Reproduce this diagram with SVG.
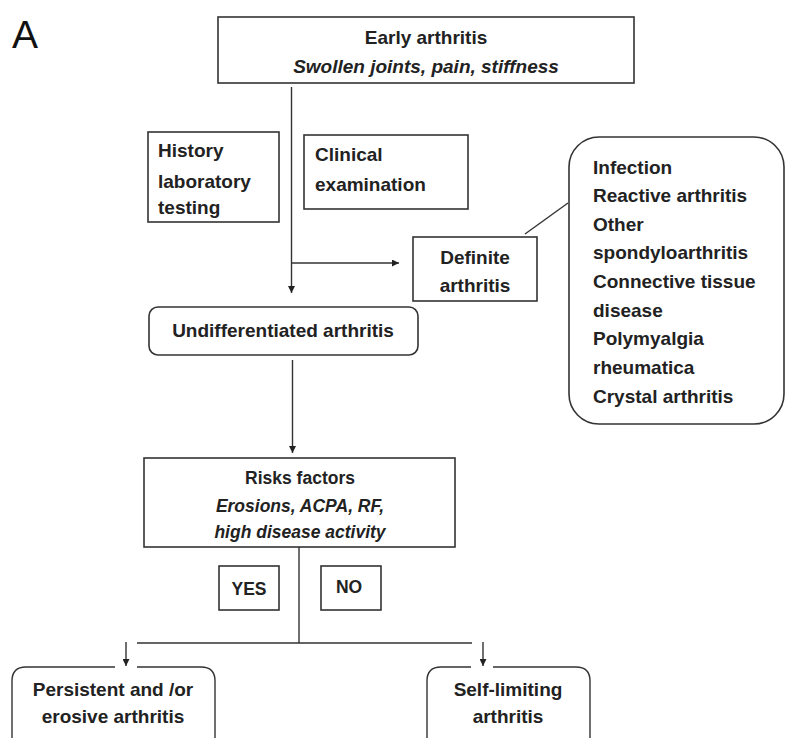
<svg xmlns="http://www.w3.org/2000/svg" width="786" height="738" viewBox="0 0 786 738">
<defs>
<style>
.box{fill:#fff;stroke:#333;stroke-width:1.6}
.ln{fill:none;stroke:#333;stroke-width:1.4}
.t{font-family:"Liberation Sans",Arial,sans-serif;font-weight:bold;font-size:19px;fill:#222}
.c{text-anchor:middle}
.i{font-style:italic}
.s{font-size:17.5px}
</style>
<marker id="ah" viewBox="0 0 10 10" refX="10" refY="5" markerWidth="7" markerHeight="7" markerUnits="userSpaceOnUse" orient="auto">
<path d="M0,0 L10,5 L0,10 Z" fill="#222"/>
</marker>
</defs>
<rect width="786" height="738" fill="#fff"/>
<text x="12" y="48" font-family="Liberation Sans,Arial,sans-serif" font-size="39" fill="#111">A</text>

<g id="connectors">
<path class="ln" d="M291.5,87 V293" marker-end="url(#ah)"/>
<path class="ln" d="M291.5,263 H399" marker-end="url(#ah)"/>
<path class="ln" d="M525,234 L568,203"/>
<path class="ln" d="M292.5,360 V453" marker-end="url(#ah)"/>
<path class="ln" d="M299,547 V643 M137,643 H472"/>
<path class="ln" d="M126,642 V666" marker-end="url(#ah)"/>
<path class="ln" d="M483,642 V666" marker-end="url(#ah)"/>
</g>

<g id="early">
<rect class="box" x="218" y="17" width="416" height="66"/>
<text class="t c" x="426" y="44">Early arthritis</text>
<text class="t c i" x="426" y="73">Swollen joints, pain, stiffness</text>
</g>

<g id="history">
<rect class="box" x="148" y="132" width="131" height="90"/>
<text class="t" x="158" y="157">History</text>
<text class="t" x="158" y="188">laboratory</text>
<text class="t" x="158" y="214">testing</text>
</g>

<g id="clinical">
<rect class="box" x="304" y="135" width="164" height="74"/>
<text class="t" x="315" y="161">Clinical</text>
<text class="t" x="315" y="191">examination</text>
</g>

<g id="definite">
<rect class="box" x="413" y="237" width="124" height="64"/>
<text class="t c" x="475" y="264">Definite</text>
<text class="t c" x="475" y="292">arthritis</text>
</g>

<g id="differential">
<rect class="box" x="569" y="137" width="215" height="287" rx="30" ry="30"/>
<text class="t" x="593" y="174">Infection</text>
<text class="t" x="593" y="202">Reactive arthritis</text>
<text class="t" x="593" y="231">Other</text>
<text class="t" x="593" y="259">spondyloarthritis</text>
<text class="t" x="593" y="288">Connective tissue</text>
<text class="t" x="593" y="317">disease</text>
<text class="t" x="593" y="345">Polymyalgia</text>
<text class="t" x="593" y="374">rheumatica</text>
<text class="t" x="593" y="403">Crystal arthritis</text>
</g>

<g id="undifferentiated">
<rect class="box" x="149" y="307" width="269" height="48" rx="9" ry="9"/>
<text class="t c" x="283" y="337">Undifferentiated arthritis</text>
</g>

<g id="risks">
<rect class="box" x="144" y="458" width="311" height="89"/>
<text class="t c s" x="300" y="484">Risks factors</text>
<text class="t c s i" x="300" y="512">Erosions, ACPA, RF,</text>
<text class="t c s i" x="300" y="538">high disease activity</text>
</g>

<g id="yes">
<rect class="box" x="219" y="566" width="60" height="44"/>
<text class="t c s" x="249" y="595">YES</text>
</g>

<g id="no">
<rect class="box" x="321" y="566" width="60" height="44"/>
<text class="t c s" x="349" y="593">NO</text>
</g>

<g id="persistent">
<path class="ln" d="M12,760 V681 Q12,667 26,667 H115 M137,667 H201 Q215,667 215,681 V760" stroke-width="1.6"/>
<text class="t c" x="113" y="696">Persistent and /or</text>
<text class="t c" x="113" y="723">erosive arthritis</text>
</g>

<g id="selflimiting">
<path class="ln" d="M427,760 V681 Q427,667 441,667 H471 M493,667 H576 Q590,667 590,681 V760" stroke-width="1.6"/>
<text class="t c" x="508" y="696">Self-limiting</text>
<text class="t c" x="508" y="723">arthritis</text>
</g>
</svg>
